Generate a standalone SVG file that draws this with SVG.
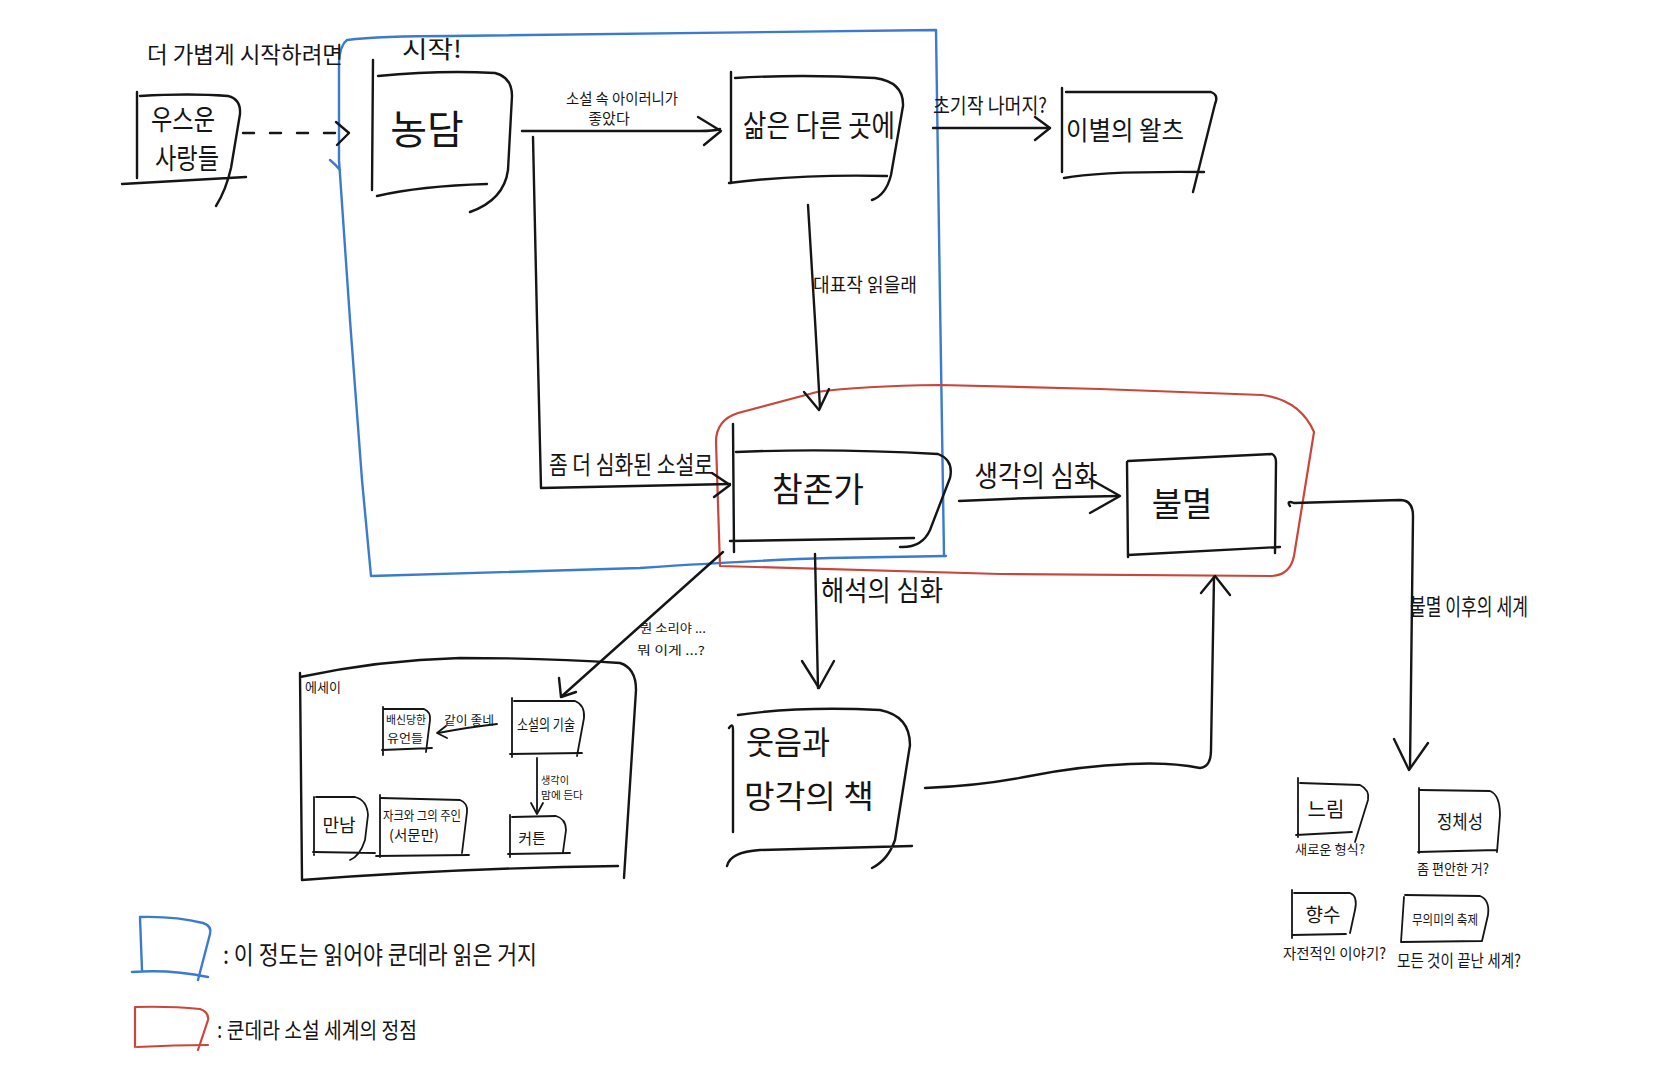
<svg xmlns="http://www.w3.org/2000/svg" width="1662" height="1080" viewBox="0 0 1662 1080">
<style>
.ln{fill:none;stroke:#151515;stroke-width:2.4;stroke-linecap:round;stroke-linejoin:round}
.th{stroke-width:1.8}
.bl{fill:none;stroke:#3a7bd0;stroke-width:2.4;stroke-linecap:round;stroke-linejoin:round}
.rd{fill:none;stroke:#c9463b;stroke-width:2.2;stroke-linecap:round;stroke-linejoin:round}
text{font-family:"Noto Sans CJK KR","Noto Sans",sans-serif;fill:#151515}
.m{text-anchor:middle;dominant-baseline:central}
.s{dominant-baseline:central}
</style>
<rect width="1662" height="1080" fill="#ffffff"/>

<!-- regions -->
<g id="blue-region">
<path class="bl" d="M340 170 Q336 165 330 160 M347 40 Q340 45 339 62 L339 160 L350 320 L362 480 L371 576 Q500 572 640 568 Q760 560 830 558 L946 556 M347 40 Q380 36 450 36 L936 30 L940 300 L944 556"/>
</g>
<g id="red-region">
<path class="rd" d="M720 566 L716 442 Q716 420 738 413 L817 392 Q860 386 940 385 L1100 389 L1262 395 Q1300 400 1314 432 L1294 556 Q1290 575 1272 576 L1000 574 L720 566"/>
</g>

<!-- connectors -->
<g id="connectors">
<path class="ln" d="M243 133 L348 133" stroke-dasharray="11 16"/>
<path class="ln" d="M336 122 L349 133 L337 145"/>

<path class="ln" d="M522 131 L700 131 Q714 131 720 129"/>
<path class="ln" d="M698 117 L721 131 L704 145"/>
<text x="622" y="97" class="m" font-size="15" textLength="112" lengthAdjust="spacingAndGlyphs">소설 속 아이러니가</text>
<text x="609" y="117" class="m" font-size="15">좋았다</text>

<path class="ln" d="M533 137 L537 320 L541 488 L730 484"/>
<path class="ln" d="M712 473 L730 485 L714 497"/>
<text x="631" y="463" class="m" font-size="25" textLength="164" lengthAdjust="spacingAndGlyphs">좀 더 심화된 소설로</text>

<path class="ln" d="M933 128 L1050 128"/>
<path class="ln" d="M1035 117 L1050 128 L1035 140"/>
<text x="933" y="104" class="s" font-size="21" textLength="114" lengthAdjust="spacingAndGlyphs">초기작 나머지?</text>

<path class="ln" d="M808 205 L815 320 L820 408"/>
<path class="ln" d="M804 392 L819 410 L829 389"/>
<text x="865" y="283" class="m" font-size="19" textLength="104" lengthAdjust="spacingAndGlyphs">대표작 읽을래</text>

<path class="ln" d="M959 501 Q1040 497 1119 496"/>
<path class="ln" d="M1090 479 L1120 496 L1090 513"/>
<text x="1036" y="474" class="m" font-size="29" textLength="123" lengthAdjust="spacingAndGlyphs">생각의 심화</text>

<path class="ln" d="M815 554 L818 688"/>
<path class="ln" d="M802 661 L819 688 L834 661"/>
<text x="882" y="589" class="m" font-size="28" textLength="122" lengthAdjust="spacingAndGlyphs">해석의 심화</text>

<path class="ln" d="M723 552 L562 696"/>
<path class="ln" d="M559 678 L561 697 L576 692"/>
<text x="640" y="627" class="s" font-size="12" textLength="66" lengthAdjust="spacingAndGlyphs">뭔 소리야 ...</text>
<text x="637" y="649" class="s" font-size="12" textLength="68" lengthAdjust="spacingAndGlyphs">뭐 이게 ...?</text>

<path class="ln" d="M925 788 Q980 786 1030 776 Q1080 766 1130 764 Q1170 762 1200 768 Q1211 767 1211 750 L1214 577"/>
<path class="ln" d="M1201 593 L1215 576 L1230 595"/>

<path class="ln" d="M1290 506 Q1286 500 1294 503 L1400 500 Q1413 500 1413 516 L1410 768"/>
<path class="ln" d="M1394 739 L1409 770 L1428 743"/>
<text x="1410" y="605" class="s" font-size="23" textLength="118" lengthAdjust="spacingAndGlyphs">불멸 이후의 세계</text>

<path class="ln th" d="M497 724 Q470 727 438 733"/>
<path class="ln th" d="M446 726 L437 733 L447 738"/>
<text x="469" y="719" class="m" font-size="12" textLength="50" lengthAdjust="spacingAndGlyphs">같이 좋네</text>
<path class="ln th" d="M537 758 L537 813"/>
<path class="ln th" d="M531 803 L537 814 L543 803"/>
<text x="541" y="779" class="s" font-size="10" textLength="28" lengthAdjust="spacingAndGlyphs">생각이</text>
<text x="541" y="794" class="s" font-size="10" textLength="42" lengthAdjust="spacingAndGlyphs">맘에 든다</text>
</g>

<!-- nodes -->
<g id="n-laughable-loves">
<path class="ln" d="M137 92 L137 178 M140 96 Q190 93 228 96 Q241 99 240 114 L231 168 Q226 190 216 206 M122 184 L246 177"/>
<text x="183" y="118" class="m" font-size="28" textLength="64" lengthAdjust="spacingAndGlyphs">우스운</text>
<text x="187" y="157" class="m" font-size="28" textLength="64" lengthAdjust="spacingAndGlyphs">사랑들</text>
</g>
<g id="n-joke">
<path class="ln" d="M373 60 L372 190 M378 76 Q440 70 495 73 Q512 77 512 96 L508 170 Q504 200 470 212 M377 196 Q420 186 487 184"/>
<text x="427" y="127" class="m" font-size="40">농담</text>
</g>
<g id="n-life-elsewhere">
<path class="ln" d="M731 72 L731 183 M735 78 Q800 74 875 78 Q904 82 903 106 L891 175 Q886 195 872 200 M729 183 Q800 174 887 176"/>
<text x="819" y="123" class="m" font-size="30" textLength="152" lengthAdjust="spacingAndGlyphs">삶은 다른 곳에</text>
</g>
<g id="n-farewell-waltz">
<path class="ln" d="M1062 88 L1062 172 M1066 92 L1211 92 Q1219 95 1215 104 L1193 192 M1064 178 Q1100 171 1204 172"/>
<text x="1125" y="128" class="m" font-size="26" textLength="118" lengthAdjust="spacingAndGlyphs">이별의 왈츠</text>
</g>
<g id="n-unbearable-lightness">
<path class="ln" d="M733 424 L734 552 M736 452 Q830 448 938 454 Q954 460 950 478 L930 530 Q922 548 900 547 M730 541 L914 538"/>
<text x="818" y="487" class="m" font-size="34" textLength="92" lengthAdjust="spacingAndGlyphs">참존가</text>
</g>
<g id="n-immortality">
<path class="ln" d="M1127 462 L1128 557 M1128 461 L1272 454 Q1276 456 1276 462 L1275 553 M1128 555 L1280 547"/>
<text x="1182" y="502" class="m" font-size="33">불멸</text>
</g>
<g id="n-laughter-forgetting">
<path class="ln" d="M729 728 Q733 722 733 730 L733 832 M738 715 Q800 706 880 710 Q910 716 910 745 L895 840 Q888 860 872 868 M727 866 Q730 852 760 850 L912 846"/>
<text x="746" y="740" class="s" font-size="32" textLength="84" lengthAdjust="spacingAndGlyphs">웃음과</text>
<text x="744" y="794" class="s" font-size="32" textLength="130" lengthAdjust="spacingAndGlyphs">망각의 책</text>
</g>
<g id="n-essays">
<path class="ln" d="M300 673 L302 880 M300 677 Q380 660 460 658 Q550 658 620 663 Q636 668 636 690 L624 878 M302 880 Q460 868 618 866"/>
<text x="305" y="686" class="s" font-size="13">에세이</text>
</g>
<g id="n-testaments-betrayed">
<path class="ln th" d="M383 707 L383 755 M384 709 L424 709 Q431 712 430 720 L426 752 M382 750 L432 748"/>
<text x="406" y="719" class="m" font-size="11" textLength="40" lengthAdjust="spacingAndGlyphs">배신당한</text>
<text x="405" y="737" class="m" font-size="12" textLength="36" lengthAdjust="spacingAndGlyphs">유언들</text>
</g>
<g id="n-art-of-novel">
<path class="ln th" d="M512 698 L512 757 M514 701 L575 701 Q585 705 584 718 L577 756 M510 754 L582 753"/>
<text x="546" y="723" class="m" font-size="15" textLength="58" lengthAdjust="spacingAndGlyphs">소설의 기술</text>
</g>
<g id="n-encounter">
<path class="ln th" d="M314 797 L314 855 M316 797 L355 797 Q367 800 368 815 L365 840 Q360 856 350 860 M313 852 L375 853"/>
<text x="339" y="824" class="m" font-size="18">만남</text>
</g>
<g id="n-jacques">
<path class="ln th" d="M380 795 L380 857 M381 798 L460 800 Q468 803 467 812 L462 853 M376 856 L469 855"/>
<text x="422" y="814" class="m" font-size="13" textLength="78" lengthAdjust="spacingAndGlyphs">자크와 그의 주인</text>
<text x="414" y="834" class="m" font-size="14" textLength="50" lengthAdjust="spacingAndGlyphs">(서문만)</text>
</g>
<g id="n-curtain">
<path class="ln th" d="M510 815 L510 857 M512 817 L556 816 Q566 819 566 830 L563 852 M508 854 L570 853"/>
<text x="532" y="837" class="m" font-size="15">커튼</text>
</g>
<g id="n-slowness">
<path class="ln th" d="M1298 778 L1298 837 M1300 783 L1360 785 Q1370 790 1368 800 L1355 842 M1296 835 L1352 832"/>
<text x="1326" y="808" class="m" font-size="20">느림</text>
<text x="1295" y="848" class="s" font-size="13" textLength="70" lengthAdjust="spacingAndGlyphs">새로운 형식?</text>
</g>
<g id="n-identity">
<path class="ln th" d="M1419 788 L1419 853 M1420 790 L1490 791 Q1500 795 1500 815 L1497 852 M1418 852 L1497 850"/>
<text x="1460" y="820" class="m" font-size="19" textLength="46" lengthAdjust="spacingAndGlyphs">정체성</text>
<text x="1417" y="868" class="s" font-size="14" textLength="72" lengthAdjust="spacingAndGlyphs">좀 편안한 거?</text>
</g>
<g id="n-ignorance">
<path class="ln th" d="M1292 890 L1292 938 M1294 893 L1350 893 Q1358 896 1355 910 L1350 933 M1292 935 L1346 934"/>
<text x="1323" y="913" class="m" font-size="19">향수</text>
<text x="1283" y="952" class="s" font-size="15" textLength="103" lengthAdjust="spacingAndGlyphs">자전적인 이야기?</text>
</g>
<g id="n-festival">
<path class="ln th" d="M1404 897 L1401 942 M1405 895 L1480 896 Q1490 900 1488 915 L1482 941 M1401 942 L1482 941"/>
<text x="1445" y="918" class="m" font-size="13" textLength="66" lengthAdjust="spacingAndGlyphs">무의미의 축제</text>
<text x="1397" y="959" class="s" font-size="17" textLength="124" lengthAdjust="spacingAndGlyphs">모든 것이 끝난 세계?</text>
</g>

<!-- free text -->
<text x="147" y="53" class="s" font-size="23" textLength="196" lengthAdjust="spacingAndGlyphs">더 가볍게 시작하려면</text>
<text x="402" y="47" class="s" font-size="24" textLength="60" lengthAdjust="spacingAndGlyphs">시작!</text>

<!-- legend -->
<g id="legend">
<path class="bl" d="M140 918 L142 970 M140 917 Q175 916 203 923 Q212 926 210 934 L198 980 M132 972 Q170 969 208 977"/>
<text x="223" y="953" class="s" font-size="25" textLength="314" lengthAdjust="spacingAndGlyphs">: 이 정도는 읽어야 쿤데라 읽은 거지</text>
<path class="rd" d="M135 1007 L135 1047 M135 1007 Q170 1006 200 1009 Q209 1012 208 1020 L198 1050 M137 1047 Q175 1045 208 1045"/>
<text x="217" y="1028" class="s" font-size="22" textLength="200" lengthAdjust="spacingAndGlyphs">: 쿤데라 소설 세계의 정점</text>
</g>
</svg>
